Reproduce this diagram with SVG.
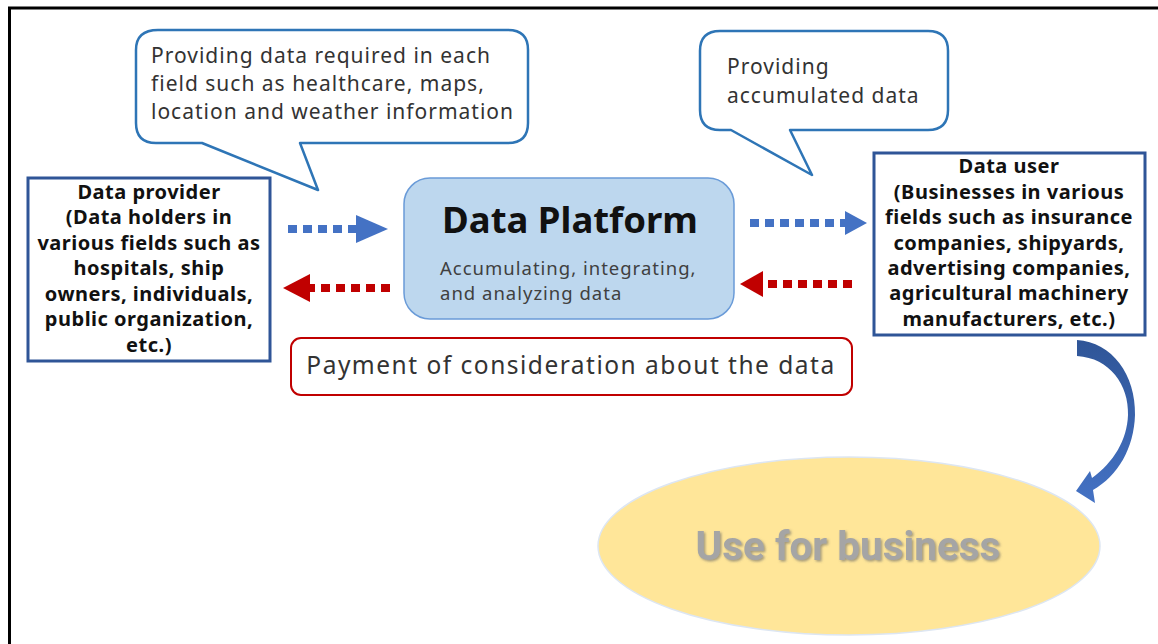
<svg xmlns="http://www.w3.org/2000/svg" width="1158" height="644" viewBox="0 0 1158 644">
<style>
.bubble{fill:#fff;stroke:#2E75B6;stroke-width:2.5;stroke-linejoin:round}
.btxt{font-family:"Noto Sans","Liberation Sans",sans-serif;font-size:21px;letter-spacing:1px;fill:#333}
.box{fill:#fff;stroke:#2F5597;stroke-width:3}
.bold{font-family:"Noto Sans","Liberation Sans",sans-serif;font-size:20px;letter-spacing:0.5px;font-weight:bold;fill:#111;text-anchor:middle}
.blue{stroke:#4472C4;stroke-width:8;stroke-dasharray:9 6;fill:none}
.red{stroke:#C00000;stroke-width:8;stroke-dasharray:9 6;fill:none}
</style>
<defs>
<filter id="sh" x="-10%" y="-20%" width="120%" height="140%">
<feDropShadow dx="1.5" dy="1.5" stdDeviation="1" flood-color="#666" flood-opacity="0.6"/>
</filter>
<linearGradient id="cg" x1="0" y1="0" x2="0" y2="1">
<stop offset="0" stop-color="#2F5597"/>
<stop offset="1" stop-color="#4472C4"/>
</linearGradient>
</defs>
<rect x="0" y="0" width="1158" height="644" fill="#fff"/>
<rect x="9.5" y="8" width="1200" height="700" fill="none" stroke="#000" stroke-width="3"/>

<g id="callout-left">
<path class="bubble" d="M158,30 H508 Q528,30 528,50 V123 Q528,143 508,143 H300 L318,190 L202,143 H156 Q136,143 136,123 V50 Q136,30 158,30 Z"/>
<text class="btxt" x="151" y="63">Providing data required in each</text>
<text class="btxt" x="151" y="91">field such as healthcare, maps,</text>
<text class="btxt" x="151" y="119">location and weather information</text>
</g>

<g id="callout-right">
<path class="bubble" d="M720,31 H928 Q948,31 948,51 V110 Q948,130 928,130 H790 L812,175 L731,130 H720 Q700,130 700,110 V51 Q700,31 720,31 Z"/>
<text class="btxt" x="727" y="74">Providing</text>
<text class="btxt" x="727" y="103">accumulated data</text>
</g>

<g id="data-provider">
<rect class="box" x="28" y="178" width="242" height="183"/>
<text class="bold" x="149" y="199">Data provider</text>
<text class="bold" x="149" y="224">(Data holders in</text>
<text class="bold" x="149" y="250">various fields such as</text>
<text class="bold" x="149" y="275">hospitals, ship</text>
<text class="bold" x="149" y="301">owners, individuals,</text>
<text class="bold" x="149" y="326">public organization,</text>
<text class="bold" x="149" y="352">etc.)</text>
</g>

<g id="data-platform">
<rect x="404" y="178" width="330" height="141" rx="26" fill="#BDD7EE" stroke="#6A9BD8" stroke-width="1.5"/>
<text x="570" y="233" font-family="Noto Sans,Liberation Sans,sans-serif" font-size="36.5" font-weight="bold" fill="#111" text-anchor="middle">Data Platform</text>
<text x="440" y="275" font-family="Noto Sans,Liberation Sans,sans-serif" font-size="18.5" letter-spacing="1" fill="#404040">Accumulating, integrating,</text>
<text x="440" y="300" font-family="Noto Sans,Liberation Sans,sans-serif" font-size="18.5" letter-spacing="1" fill="#404040">and analyzing data</text>
</g>

<g id="data-user">
<rect class="box" x="874" y="153" width="271" height="182"/>
<text class="bold" x="1009" y="173">Data user</text>
<text class="bold" x="1009" y="199">(Businesses in various</text>
<text class="bold" x="1009" y="224">fields such as insurance</text>
<text class="bold" x="1009" y="250">companies, shipyards,</text>
<text class="bold" x="1009" y="275">advertising companies,</text>
<text class="bold" x="1009" y="300">agricultural machinery</text>
<text class="bold" x="1009" y="326">manufacturers, etc.)</text>
</g>

<g id="payment">
<rect x="291" y="338" width="561" height="57" rx="10" fill="#fff" stroke="#C00000" stroke-width="2"/>
<text x="571" y="374" font-family="Noto Sans,Liberation Sans,sans-serif" font-size="24.5" letter-spacing="1.5" fill="#333" text-anchor="middle">Payment of consideration about the data</text>
</g>

<g id="use-for-business">
<ellipse cx="849" cy="546" rx="251" ry="89" fill="#FFE699" stroke="#DDE6F2" stroke-width="1.5"/>
<text x="848" y="560" font-family="Roboto,Liberation Sans,sans-serif" font-size="40.5" font-weight="bold" fill="#A5A5A5" text-anchor="middle" filter="url(#sh)">Use for business</text>
</g>

<g id="connectors">
<path class="blue" d="M288,229 H356"/>
<polygon points="356,215 388,229 356,243" fill="#4472C4"/>
<path class="red" d="M390,288 H310"/>
<polygon points="310,274 283,288 310,302" fill="#C00000"/>
<path class="blue" d="M750,223 H845"/>
<polygon points="845,211 867,223 845,235" fill="#4472C4"/>
<path class="red" d="M852,284 H763"/>
<polygon points="763,271 740,284 763,297" fill="#C00000"/>
<path d="M1077,340 C1112,342 1136,375 1135,415 C1134,448 1118,476 1093,490 L1095,503 L1076,491 L1090,471 L1092,478 C1114,462 1127,440 1128,415 C1129,385 1110,358 1077,356 Z" fill="url(#cg)"/>
</g>
</svg>
